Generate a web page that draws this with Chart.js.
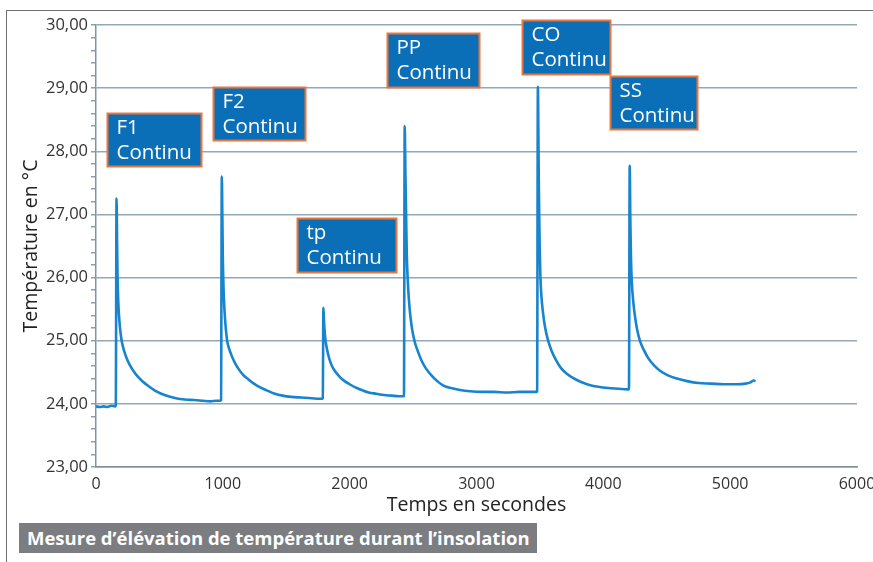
<!DOCTYPE html>
<html><head><meta charset="utf-8">
<script src="https://cdn.jsdelivr.net/npm/chart.js@4.4.1/dist/chart.umd.min.js"></script>
<style>
html,body{margin:0;padding:0;background:#fff;}
#wrap{position:relative;width:873px;height:562px;overflow:hidden;background:#fff;}
#frameTop{position:absolute;left:6px;top:10px;width:867px;height:0;border-top:1.5px solid #707070;}
#frameLeft{position:absolute;left:6px;top:10px;width:0;height:552px;border-left:1.5px solid #707070;}
#caption{position:absolute;left:19px;top:523px;width:518px;height:30px;background:#7b7d80;color:#fff;font:bold 18.5px 'Open Sans';line-height:30px;padding-left:8px;box-sizing:border-box;white-space:nowrap;overflow:hidden;}
canvas{position:absolute;left:0;top:0;}
</style></head>
<body><div id="wrap">
<canvas id="c" width="873" height="562"></canvas>
<div id="frameTop"></div><div id="frameLeft"></div>
<div id="caption">Mesure d’élévation de température durant l’insolation</div>
</div>
<script>
// Time (s) and temperature (°C)
const timeSec = [
  0,30,60,90,120,150,
  156,162,166,170,176,185,195,205,220,240,265,295,330,370,415,465,515,570,630,700,770,840,900,950,980,
  986,992,996,1000,1006,1014,1024,1034,1050,1070,1095,1125,1160,1200,1245,1295,1350,1410,1470,1540,1620,1700,1760,1782,
  1788,1793,1798,1806,1818,1832,1848,1870,1895,1925,1960,2000,2045,2095,2150,2210,2270,2330,2390,2424,
  2428,2434,2440,2445,2450,2457,2466,2478,2495,2516,2540,2570,2605,2645,2690,2740,2800,2870,2950,3040,3140,3240,3340,3430,3474,
  3478,3484,3489,3493,3498,3504,3512,3524,3540,3562,3590,3625,3665,3710,3760,3820,3890,3960,4040,4120,4190,4202,
  4208,4213,4218,4224,4236,4250,4268,4290,4320,4355,4400,4450,4510,4580,4660,4750,4850,4950,5050,5120,5160,5185,5200
];
const tempC = [
  23.96,23.95,23.96,23.95,23.97,23.96,
  23.98,27.25,26.6,26.0,25.6,25.3,25.1,24.97,24.85,24.73,24.62,24.52,24.43,24.35,24.28,24.21,24.16,24.12,24.09,24.07,24.06,24.05,24.04,24.05,24.05,
  24.06,27.6,27.0,26.3,25.8,25.45,25.18,25.0,24.87,24.76,24.65,24.55,24.46,24.39,24.32,24.26,24.21,24.16,24.13,24.11,24.10,24.09,24.08,24.08,
  24.09,25.52,25.3,25.07,24.9,24.77,24.66,24.56,24.49,24.42,24.36,24.31,24.26,24.22,24.18,24.16,24.14,24.13,24.12,24.12,
  24.12,28.4,27.6,27.0,26.4,26.0,25.68,25.4,25.15,24.96,24.82,24.67,24.55,24.45,24.36,24.29,24.25,24.22,24.2,24.19,24.19,24.18,24.19,24.19,24.19,
  24.2,29.02,28.0,27.2,26.5,26.0,25.7,25.45,25.22,25.02,24.85,24.7,24.57,24.48,24.41,24.35,24.3,24.27,24.25,24.24,24.23,24.23,
  27.77,26.9,26.3,25.95,25.62,25.38,25.16,24.99,24.85,24.72,24.61,24.52,24.45,24.4,24.36,24.33,24.32,24.31,24.31,24.32,24.34,24.37,24.36
];

const xTicks = [0,1000,2000,3000,4000,5000,6000];
const yTicks = [23,24,25,26,27,28,29,30];

// Event labels (name / mode)
const eventNames = ['F1','F2','tp','PP','CO','SS'];
const eventMode = 'Continu';
// label placement: top-left corner in data units, box size in px
const eventBoxes = [
  {t:87,   T:28.605, w:94, h:53},
  {t:923,  T:29.017, w:92, h:53},
  {t:1585, T:26.941, w:99, h:54},
  {t:2295, T:29.873, w:92, h:54},
  {t:3359, T:30.079, w:88, h:54},
  {t:4053, T:29.19,  w:87, h:53}
];

const pts = timeSec.map((t,i)=>({x:t, y:tempC[i]}));
const isInt = v => Math.abs(v - Math.round(v)) < 1e-6;
const gridCol = '#93a7b7';

const boxPlugin = {
  id:'eventBoxes',
  afterDatasetsDraw(chart){
    const {ctx, scales:{x,y}} = chart;
    ctx.save();
    eventBoxes.forEach((b,i)=>{
      const px = Math.round(x.getPixelForValue(b.t)) + 0.5;
      const py = Math.round(y.getPixelForValue(b.T)) + 0.5;
      ctx.fillStyle = '#0b6fb8';
      ctx.fillRect(px, py, b.w, b.h);
      ctx.strokeStyle = '#e8773f';
      ctx.lineWidth = 2;
      ctx.strokeRect(px, py, b.w, b.h);
      ctx.fillStyle = '#ffffff';
      ctx.font = '20.5px "Open Sans"';
      ctx.textBaseline = 'alphabetic';
      ctx.fillText(eventNames[i], px + 9, py + 20);
      ctx.fillText(eventMode, px + 9, py + 45);
    });
    ctx.restore();
  }
};

new Chart(document.getElementById('c'), {
  type:'line',
  data:{datasets:[{
    data: pts,
    borderColor:'#1784cd',
    borderWidth:2.6,
    pointRadius:0,
    cubicInterpolationMode:'monotone',
    fill:false
  }]},
  options:{
    responsive:false,
    animation:false,
    layout:{padding:{top:25,left:0,right:0,bottom:40}},
    plugins:{legend:{display:false},tooltip:{enabled:false}},
    scales:{
      x:{
        type:'linear', min:xTicks[0], max:xTicks[xTicks.length-1],
        afterFit(s){ s.height = 55; s.paddingRight = 16; s.paddingLeft = 0; },
        afterBuildTicks(s){ s.ticks = xTicks.map(v=>({value:v})); },
        grid:{display:false, drawTicks:false},
        border:{display:true, color:'#7f8e9b', width:1.5},
        ticks:{padding:8, color:'#333', font:{family:'Open Sans', size:16}, callback:v=>String(v), autoSkip:false, maxRotation:0},
        title:{display:true, text:'Temps en secondes', color:'#222', font:{family:'Open Sans', size:19.5}, padding:{top:5,bottom:5}}
      },
      y:{
        type:'linear', min:yTicks[0], max:yTicks[yTicks.length-1],
        afterFit(s){ s.width = 96; },
        grid:{
          color:c => (c.tick && isInt(c.tick.value)) ? gridCol : 'rgba(0,0,0,0)',
          tickColor:'#8aa0b1', tickLength:5, lineWidth:1.5
        },
        border:{display:true, color:'#7f95a6', width:1.5},
        ticks:{stepSize:0.2, autoSkip:false, padding:3, color:'#333', font:{family:'Open Sans', size:16.5},
          callback:v => isInt(v) ? (yTicks.includes(Math.round(v)) ? Math.round(v).toFixed(2).replace('.', ',') : '') : ''},
        title:{display:true, text:'Température en °C', color:'#222', font:{family:'Open Sans', size:19.5}, padding:{top:20,bottom:20}}
      }
    }
  },
  plugins:[boxPlugin]
});
</script>
</body></html>
